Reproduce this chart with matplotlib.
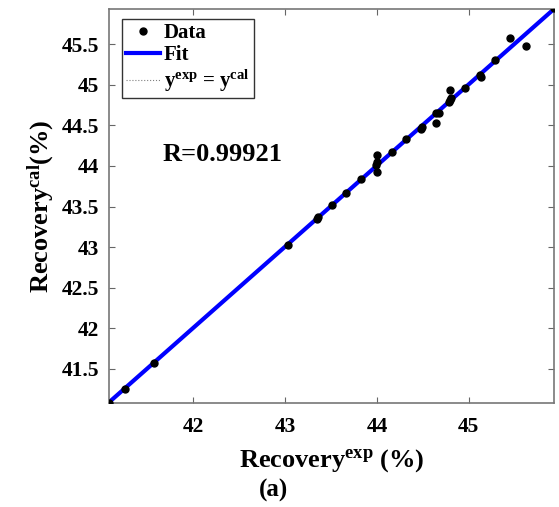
import matplotlib
matplotlib.use("Agg")
import matplotlib.pyplot as plt
import numpy as np

plt.rcParams['font.family'] = ['Liberation Serif', 'DejaVu Serif']
plt.rcParams['font.weight'] = 'bold'
plt.rcParams['axes.labelweight'] = 'bold'
plt.rcParams['mathtext.fontset'] = 'custom'
plt.rcParams['mathtext.rm'] = 'Liberation Serif:bold'
plt.rcParams['mathtext.bf'] = 'Liberation Serif:bold'
plt.rcParams['mathtext.it'] = 'Liberation Serif:bold'

# valeurs
rec_exp = [41.08, 41.25, 41.57, 43.03, 43.35, 43.36, 43.51, 43.66, 43.83,
           43.99, 44.00, 44.00, 44.00, 44.16, 44.32, 44.48, 44.49, 44.64,
           44.68, 44.64, 44.79, 44.80, 44.81, 44.80, 44.96, 45.12, 45.13,
           45.29, 45.45, 45.62, 45.93]
rec_cal = [41.08, 41.25, 41.57, 43.03, 43.34, 43.37, 43.52, 43.67, 43.84,
           44.01, 44.05, 44.13, 43.92, 44.17, 44.33, 44.46, 44.48, 44.65,
           44.65, 44.53, 44.79, 44.81, 44.83, 44.93, 44.96, 45.12, 45.10,
           45.30, 45.57, 45.47, 45.94]
xticks = [42, 43, 44, 45]
yticks = [41.5, 42, 42.5, 43, 43.5, 44, 44.5, 45, 45.5]
R_val = 0.99921

x = np.array(rec_exp)
y = np.array(rec_cal)
lo, hi = x.min(), x.max()

fig = plt.figure(figsize=(5.59, 5.07), dpi=100)
ax = fig.add_axes([0.195, 0.205, 0.796, 0.777])

# ajuste lineaire
p = np.polyfit(x, y, 1)
xf = np.array([lo, hi])
ax.plot(x, y, 'o', color='black', ms=5, label='Data', zorder=3)
ax.plot(xf, np.polyval(p, xf), '-', color='#0000ff', lw=3, label='Fit', zorder=2)
ax.plot(xf, xf, ':', color='gray', lw=0.8, label=r'y$^{\mathbf{exp}}$ = y$^{\mathbf{cal}}$', zorder=1)

ax.set_xlim(lo, hi)
ax.set_ylim(lo, hi)
ax.set_xticks(xticks)
ax.set_yticks(yticks)
ax.set_xticklabels([str(v) for v in xticks])
ax.set_yticklabels([f'{v:g}' for v in yticks])
ax.tick_params(direction='in', top=True, right=True, length=4, color='#666666',
               labelsize=15.5, pad=7)
ax.tick_params(axis='x', pad=10)
for s in ax.spines.values():
    s.set_color('#777777')
    s.set_linewidth(1.2)

ax.set_xlabel(r'Recovery$^{\mathbf{exp}}$ (%)', fontsize=19, labelpad=7)
ax.set_ylabel(r'Recovery$^{\mathbf{cal}}$(%)', fontsize=19, labelpad=4)

ax.text(0.12, 0.63, f'R={R_val}', transform=ax.transAxes, fontsize=19,
        va='center', ha='left')

leg = ax.legend(loc='upper left', bbox_to_anchor=(0.02, 0.985), fontsize=15,
                frameon=True, fancybox=False, edgecolor='black',
                handlelength=1.6, handletextpad=0.2, borderpad=0.2,
                labelspacing=0.1, borderaxespad=0.2)
leg.get_frame().set_linewidth(1.0)

fig.text(0.49, 0.032, '(a)', fontsize=18, ha='center', va='center')

fig.savefig('out.png', dpi=100)
